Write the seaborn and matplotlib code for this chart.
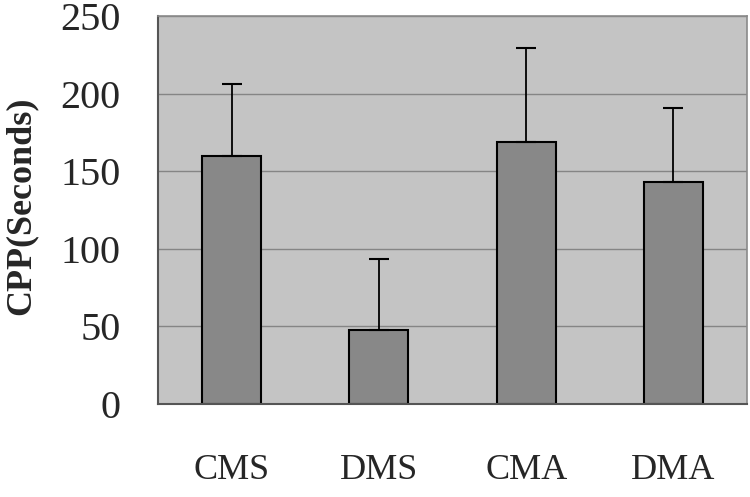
import numpy as np
import pandas as pd
import matplotlib
matplotlib.use("Agg")
import matplotlib.pyplot as plt
import seaborn as sns

# values
groups = ["CMS", "DMS", "CMA", "DMA"]
cpp_mean = [160, 47.5, 168.5, 143]
cpp_err = [46, 46, 61, 48]

sns.set_theme(style="white")
plt.rcParams["font.family"] = ["Liberation Serif", "DejaVu Serif"]

df = pd.DataFrame({"group": groups, "cpp": cpp_mean})

fig = plt.figure(figsize=(7.5, 4.97), dpi=100)
ax = fig.add_axes([0.2107, 0.1871, 0.7853, 0.7807])
ax.set_facecolor("#c4c4c4")
ax.set_axisbelow(True)
ax.yaxis.grid(True, color="#858585", linewidth=1.0)

sns.barplot(data=df, x="group", y="cpp", color="#888888", saturation=1,
            width=0.4, edgecolor="black", linewidth=1.5, errorbar=None, ax=ax)

# one-sided (upper) error bars
xs = np.arange(len(groups))
ax.errorbar(xs, cpp_mean, yerr=[np.zeros(len(groups)), cpp_err],
            fmt="none", ecolor="black", elinewidth=1.3, capsize=7.5,
            capthick=1.5)

ax.set_ylim(0, 250)
ax.set_xlim(-0.5, 3.5)
ax.set_yticks([0, 50, 100, 150, 200, 250])
ax.tick_params(axis="y", length=0, pad=27, labelsize=29)
ax.tick_params(axis="x", length=0, pad=36, labelsize=26)
ax.set_xlabel("")
ax.set_ylabel("CPP(Seconds)", fontsize=26, fontweight="bold")
ax.yaxis.set_label_coords(-0.205, 0.51)

for side in ["top", "right"]:
    ax.spines[side].set_color("#8a8a8a")
    ax.spines[side].set_linewidth(1.2)
for side in ["left", "bottom"]:
    ax.spines[side].set_color("#555555")
    ax.spines[side].set_linewidth(1.5)

fig.savefig("out.png", dpi=100)
